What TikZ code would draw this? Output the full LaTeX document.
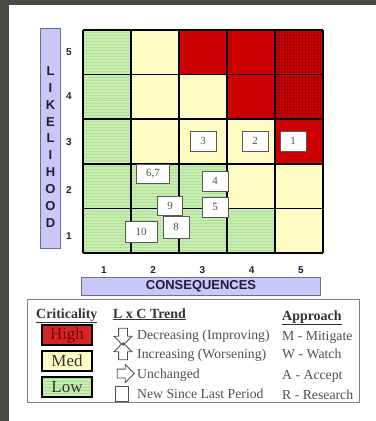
\documentclass[tikz,border=0pt]{standalone}
\usepackage{fontspec}
\setmainfont{Liberation Serif}
\setsansfont{Liberation Sans}
\usetikzlibrary{positioning,shapes.arrows,patterns}

\definecolor{bgdark}{HTML}{4A4A42}
\definecolor{lowgreen}{HTML}{C6EEB0}
\definecolor{lowstripe}{HTML}{B2DE9A}
\definecolor{medyellow}{HTML}{FFFCC4}
\definecolor{highred}{HTML}{CC0000}
\definecolor{highdark}{HTML}{A80000}
\definecolor{barblue}{HTML}{C8C8F8}
\definecolor{barline}{HTML}{6E6E8C}
\definecolor{textgrey}{HTML}{505050}
\definecolor{navytext}{HTML}{1E1E3C}

\begin{document}
\begin{tikzpicture}[
        x=1bp, y=-1bp,
        lowcell/.style={preaction={fill=lowgreen}, pattern=horizontal lines, pattern color=lowstripe},
        medcell/.style={fill=medyellow},
        highcell/.style={fill=highred},
        topcell/.style={preaction={fill=highred}, pattern=grid, pattern color=highdark},
        gridline/.style={line width=1.6bp, black},
        marker/.style={draw=gray!70!black, fill=white, line width=0.9bp, minimum width=26bp, minimum height=20bp, inner sep=1bp, font=\fontsize{11}{11}\selectfont, text=textgrey},
        axisbar/.style={draw=barline, fill=barblue, line width=1bp, inner sep=0pt},
        axisnum/.style={font=\sffamily\bfseries\fontsize{10}{10}\selectfont, text=navytext},
        legendhead/.style={anchor=base west, inner sep=0pt, font=\bfseries\fontsize{14}{14}\selectfont, text=black!80},
        legendtext/.style={anchor=base west, inner sep=0pt, font=\fontsize{13.8}{14}\selectfont, text=textgrey},
        critbox/.style={draw=black, line width=1.2bp, minimum width=50bp, minimum height=20bp, inner sep=0pt, font=\fontsize{17}{17}\selectfont},
        trendarrow/.style={single arrow, draw=textgrey, line width=0.9bp, minimum height=17bp, inner sep=4bp, single arrow head extend=4.5bp}
    ]
        % background and frame
        \fill[bgdark] (0,0) rectangle (376,421);
        \fill[white] (9,5) rectangle (376,421);
        \useasboundingbox (0,0) rectangle (376,421);

        % risk matrix cells
        \foreach \c/\r/\sty in {1/5/lowcell, 2/5/medcell, 3/5/highcell, 4/5/highcell, 5/5/topcell,
                                1/4/lowcell, 2/4/medcell, 3/4/medcell, 4/4/highcell, 5/4/topcell,
                                1/3/lowcell, 2/3/medcell, 3/3/medcell, 4/3/medcell, 5/3/highcell,
                                1/2/lowcell, 2/2/lowcell, 3/2/lowcell, 4/2/medcell, 5/2/medcell,
                                1/1/lowcell, 2/1/lowcell, 3/1/lowcell, 4/1/lowcell, 5/1/medcell}
            \path[\sty] ({83+48*(\c-1)},{253-44.6*\r}) rectangle ++(48,44.6);
        \foreach \i in {0,...,5} {
            \draw[gridline] ({83+48*\i},30) -- ({83+48*\i},253);
            \draw[gridline] (83,{30+44.6*\i}) -- (323,{30+44.6*\i});
        }

        % risk items
        \node[marker] (item1) at (293,141) {1};
        \node[marker] (item2) at (255,141) {2};
        \node[marker] (item3) at (203,141) {3};
        \node[marker, minimum width=33bp, minimum height=19bp] (item67) at (153,174) {6,7};
        \node[marker] (item4) at (215,181) {4};
        \node[marker, minimum width=25bp, minimum height=19bp] (item9) at (170,206) {9};
        \node[marker] (item5) at (215,207) {5};
        \node[marker, minimum height=22bp] (item8) at (176,227) {8};
        \node[marker, minimum width=32bp, minimum height=21bp] (item10) at (141,232) {10};

        % axes
        \node[axisbar, minimum width=19bp, minimum height=220bp] (likebar) at (50.5,138) {};
        \node[font=\sffamily\bfseries\fontsize{13}{17}\selectfont, text=navytext, align=center, inner sep=0pt]
            (likeword) at (50.5,147) {L\\I\\K\\E\\L\\I\\H\\O\\O\\D};
        \foreach \n/\y in {5/52, 4/96, 3/142, 2/190, 1/236}
            \node[axisnum] (row\n) at (69,\y) {\n};
        \foreach \n in {1,...,5}
            \node[axisnum] (col\n) at ({104+49.2*(\n-1)},270) {\n};
        \node[axisbar, minimum width=238bp, minimum height=18bp,
              font=\sffamily\bfseries\fontsize{13}{13}\selectfont, text=navytext] (consbar) at (201,286) {CONSEQUENCES};

        % legend
        \draw[gray, line width=1bp] (27,299) rectangle (359,402);
        \node[legendhead] (crithead) at (36,318) {\underline{Criticality}};
        \node[critbox, fill=highred!85!white, text=highdark!70!black] (high) at (67,335) {High};
        \node[critbox, fill=medyellow, text=black!80] (med) at (67,361) {Med};
        \node[critbox, lowcell, text=black!80] (low) at (67,387) {Low};

        \node[legendhead] (trendhead) at (113,318) {\underline{L x C Trend}};
        \node[trendarrow, shape border rotate=270] (decr) at (123,334.5) {};
        \node[trendarrow, shape border rotate=90] (incr) at (123,353.5) {};
        \node[trendarrow] (unch) at (123.5,373.5) {};
        \node[draw=textgrey, line width=0.9bp, minimum width=13bp, minimum height=15bp, inner sep=0pt] (newsq) at (122,394) {};
        \node[legendtext] (decrtext) at (137,339.5) {Decreasing (Improving)};
        \node[legendtext] (incrtext) at (137,358.5) {Increasing (Worsening)};
        \node[legendtext] (unchtext) at (137,378.5) {Unchanged};
        \node[legendtext] (newtext) at (137,398.5) {New Since Last Period};

        \node[legendhead] (apphead) at (282,320) {\underline{Approach}};
        \node[legendtext] (mitig) at (282,340) {M - Mitigate};
        \node[legendtext] (watch) at (282,358.5) {W - Watch};
        \node[legendtext] (accept) at (282,379) {A - Accept};
        \node[legendtext] (research) at (282,399) {R - Research};
    \end{tikzpicture}
\end{document}
